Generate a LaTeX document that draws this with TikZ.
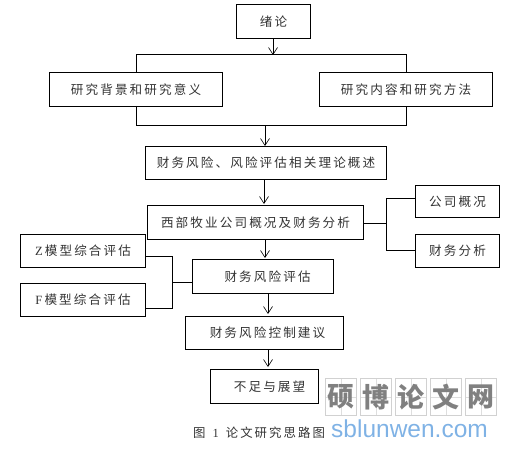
\documentclass[tikz,border=0pt]{standalone}
\usetikzlibrary{arrows.meta}
\usepackage{fontspec}
\setmainfont{Noto Sans CJK SC}
\newfontfamily\wmfont{Liberation Sans}
\newfontfamily\latfont{Liberation Serif}
\definecolor{txt}{gray}{0.2}
\definecolor{urlc}{HTML}{7FB2E5}
\begin{document}
\begin{tikzpicture}[x=1pt,y=-1pt,
  bx/.style={draw=black,line width=1.1pt,inner sep=0pt,anchor=north west,text=txt,font=\fontsize{12.6pt}{13pt}\selectfont,align=center},
  wire/.style={draw=black,line width=1pt},
  arr/.style={draw=black,line width=.6pt,-{Straight Barb[length=7pt,width=9pt]}},
  cell/.style={draw=black!18,line width=.5pt,anchor=north west,minimum width=31pt,minimum height=37pt,inner sep=0pt,text=black!50,font=\bfseries\fontsize{27pt}{28pt}\selectfont,
    path picture={\draw[black!13,line width=.4pt] (path picture bounding box.north) -- (path picture bounding box.south) (path picture bounding box.west) -- (path picture bounding box.east);}}]
\useasboundingbox (0,0) rectangle (513,449);
\node[bx,minimum width=74pt,minimum height=34pt] (a) at (236,4) {绪\,论};
\node[bx,minimum width=173pt,minimum height=34pt] (b) at (49,72) {研\,究\,背\,景\,和\,研\,究\,意\,义};
\node[bx,minimum width=173pt,minimum height=34pt] (c) at (319,72) {研\,究\,内\,容\,和\,研\,究\,方\,法};
\node[bx,minimum width=241pt,minimum height=33pt] (d) at (145,146) {财\,务\,风\,险\,、\,风\,险\,评\,估\,相\,关\,理\,论\,概\,述};
\node[bx,minimum width=216pt,minimum height=34pt] (e) at (147,205) {西\,部\,牧\,业\,公\,司\,概\,况\,及\,财\,务\,分\,析};
\node[bx,minimum width=84pt,minimum height=32pt] (f) at (415,185) {公\,司\,概\,况};
\node[bx,minimum width=84pt,minimum height=33pt] (g) at (415,234) {财\,务\,分\,析};
\node[bx,minimum width=125pt,minimum height=33pt] (z) at (20,234) {{\latfont Z}\,模\,型\,综\,合\,评\,估};
\node[bx,minimum width=125pt,minimum height=33pt] (y) at (20,283) {{\latfont F}\,模\,型\,综\,合\,评\,估};
\node[bx,minimum width=141pt,minimum height=34pt] (h) at (192,259) {\hspace*{9pt}财\,务\,风\,险\,评\,估};
\node[bx,minimum width=158pt,minimum height=33pt] (i) at (185,316) {\hspace*{6pt}财\,务\,风\,险\,控\,制\,建\,议};
\node[bx,minimum width=108pt,minimum height=34pt] (j) at (210,369) {\hspace*{10pt}不\,足\,与\,展\,望};
\coordinate (t1) at (273,55);
\coordinate (t2) at (265,126);
\coordinate (t3) at (264,204);
\coordinate (t4) at (265,258);
\coordinate (t5) at (268,314);
\coordinate (t6) at (268,367);
\draw[wire] (b.north -| 136,0) -- (136,55) -- (406,55) -- (c.north -| 406,0);
\draw[wire] (136,106) -- (136,126) -- (406,126) -- (406,106);
\draw[arr] (a.south -| t1) -- (t1);
\draw[arr] (t2) -- (t2 |- d.north);
\draw[arr] (d.south -| t3) -- (t3);
\draw[arr] (e.south -| t4) -- (t4);
\draw[arr] (h.south -| t5) -- (t5);
\draw[arr] (i.south -| t6) -- (t6);
\coordinate (r) at (386,223);
\draw[wire] (e.east |- r) -- (r);
\draw[wire] (f.west |- 0,198) -- (386,198) -- (386,250) -- (g.west |- 0,250);
\coordinate (l) at (172,282);
\draw[wire] (z.east |- 0,256) -- (172,256) -- (172,308) -- (y.east |- 0,308);
\draw[wire] (l) -- (h.west |- l);
\node[inner sep=0pt,text=txt,font=\fontsize{12.4pt}{13pt}\selectfont,anchor=west] (cap) at (193,433) {图\hspace{7pt}{\latfont 1}\hspace{7pt}论\,文\,研\,究\,思\,路\,图};
\node[cell] (w1) at (325,378) {硕};
\node[cell] (w2) at (360,378) {博};
\node[cell] (w3) at (395,378) {论};
\node[cell] (w4) at (430,378) {文};
\node[cell] (w5) at (465,378) {网};
\node[inner sep=0pt,text=urlc,font=\wmfont\fontsize{24.5pt}{25pt}\selectfont,anchor=west] (url) at (331,429) {sblunwen.com};
\end{tikzpicture}
\end{document}
